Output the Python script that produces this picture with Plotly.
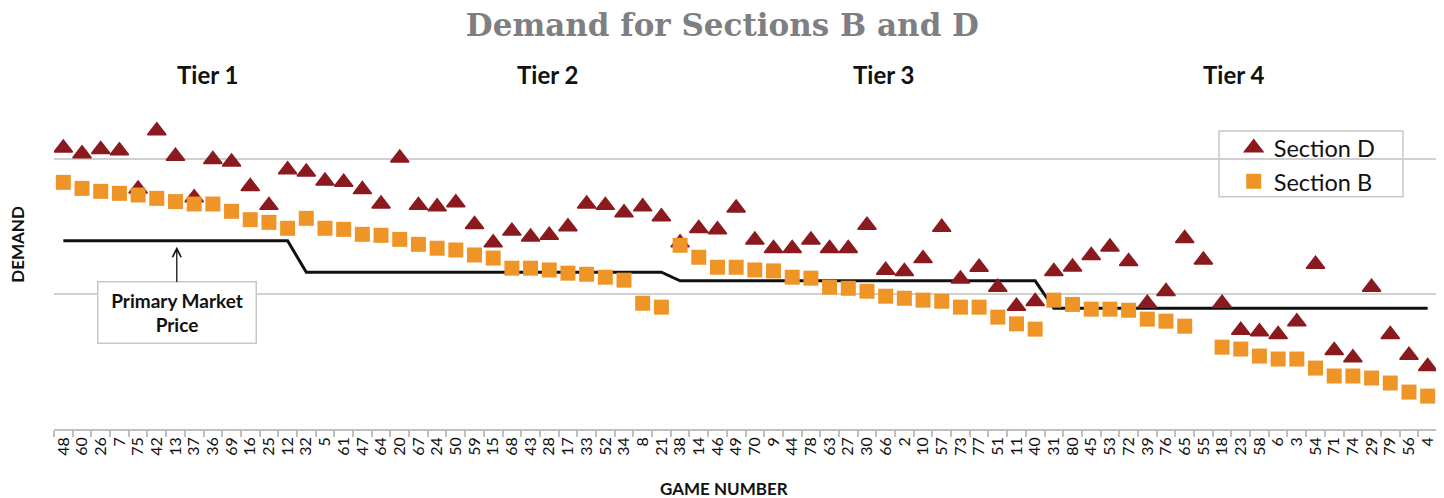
import plotly.graph_objects as go

games = ["48", "60", "26", "7", "75", "42", "13", "37", "36", "69",
         "16", "25", "12", "32", "5", "61", "47", "64", "20", "67",
         "24", "50", "59", "15", "68", "43", "28", "17", "33", "52",
         "34", "8", "21", "38", "14", "46", "49", "70", "9", "44",
         "78", "63", "27", "30", "66", "2", "10", "57", "73", "77",
         "51", "11", "40", "31", "80", "45", "53", "72", "39", "76",
         "65", "55", "18", "23", "58", "6", "3", "54", "71", "74",
         "29", "79", "56", "4"]

section_d = [208.5, 204.2, 207.4, 206.5, 178.1, 221.3, 202.4, 171.5, 200.0, 198.1,
             179.9, 165.9, 192.4, 190.7, 183.9, 183.1, 177.6, 166.9, 201.1, 165.9,
             164.8, 167.9, 151.7, 138.1, 146.8, 142.4, 143.7, 150.0, 166.9, 165.9,
             160.5, 164.8, 157.4, 138.1, 148.7, 147.8, 163.9, 140.2, 133.9, 133.9,
             140.2, 133.9, 133.9, 151.1, 117.8, 116.8, 126.4, 149.6, 111.3, 120.0,
             105.2, 91.1, 94.6, 116.8, 120.2, 128.7, 135.0, 124.2, 93.3, 102.0,
             141.3, 125.4, 93.3, 73.3, 72.1, 70.1, 79.5, 122.2, 58.3, 52.8,
             105.2, 70.1, 54.8, 46.4]

section_b = [183.0, 178.5, 176.3, 174.8, 173.6, 171.1, 168.7, 166.9, 166.9, 161.5,
             155.3, 153.3, 148.9, 156.3, 148.9, 148.1, 144.4, 143.7, 140.7, 137.0,
             134.1, 132.8, 129.1, 126.8, 119.3, 119.3, 118.0, 115.6, 114.8, 112.6,
             110.4, 93.3, 90.4, 136.3, 127.4, 120.0, 120.0, 118.0, 117.3, 112.6,
             111.9, 105.2, 104.4, 102.2, 98.5, 97.0, 95.6, 94.8, 90.4, 90.4,
             83.0, 78.0, 74.1, 95.6, 92.4, 88.9, 88.9, 88.1, 81.5, 80.0,
             76.3, None, 60.7, 59.3, 54.1, 51.9, 51.9, 45.2, 39.3, 39.3,
             37.8, 34.1, 27.4, 24.4]

# primary market price per game (one price per tier)
market_price = [139.6] * 13 + [116.3] * 20 + [109.9] * 20 + [89.5] * 21

tiers = ["Tier 1", "Tier 2", "Tier 3", "Tier 4"]
tier_label_pos = [7.7, 25.9, 43.9, 62.6]

font = "Lato, 'Open Sans', sans-serif"

fig = go.Figure()

fig.add_trace(go.Scatter(
    x=games, y=market_price, mode="lines",
    line=dict(color="#111111", width=3),
    showlegend=False, name="Primary Market Price"))

fig.add_trace(go.Scatter(
    x=games, y=section_d, mode="markers", name="Section D",
    marker=dict(symbol="triangle-up", size=16, color="#8B1A1F",
                line=dict(color="#8B1A1F", width=1.5))))

fig.add_trace(go.Scatter(
    x=games, y=section_b, mode="markers", name="Section B",
    marker=dict(symbol="square", size=15, color="#EF9528",
                line=dict(width=0))))

annotations = []
for t, p in zip(tiers, tier_label_pos):
    annotations.append(dict(x=p, y=1.053, xref="x", yref="paper", yanchor="middle",
                            text="<b>%s</b>" % t, showarrow=False,
                            font=dict(family=font, size=24, color="#111111")))

annotations.append(dict(
    x=6.07, y=135.2, xref="x", yref="y",
    text="<b>Primary Market<br>Price</b>",
    showarrow=True, arrowhead=5, arrowsize=1.3, arrowwidth=1.3, arrowcolor="#111111",
    ax=0, ay=66,
    font=dict(family=font, size=19, color="#111111"),
    bgcolor="white", bordercolor="#c8c8c8", borderwidth=1.5,
    width=155, height=58))

annotations.append(dict(x=0.4845, y=-0.176, xref="paper", yref="paper",
                        xanchor="center", yanchor="middle",
                        text="<b>GAME NUMBER</b>", showarrow=False,
                        font=dict(family=font, size=17, color="#111111")))
annotations.append(dict(x=-0.026, y=0.547, xref="paper", yref="paper",
                        xanchor="center", yanchor="middle",
                        text="<b>DEMAND</b>", showarrow=False, textangle=-90,
                        font=dict(family=font, size=17, color="#111111")))

# legend frame
shapes = [dict(type="rect", xref="paper", yref="paper",
               x0=0.8424, x1=0.9754, y0=0.689, y1=0.884,
               line=dict(color="#c8c8c8", width=1.5), fillcolor="white", layer="below")]

# the page body adds an 8px margin, so the figure is 8px smaller
fig.update_layout(
    width=1436, height=490,
    margin=dict(l=46, r=7, t=84, b=68.5),
    paper_bgcolor="white", plot_bgcolor="white",
    title=dict(text="<b>Demand for Sections B and D</b>", x=0.4975, xref="container",
               y=0.965, yref="container", yanchor="middle",
               font=dict(family="'DejaVu Serif', serif", size=31, color="#7f7f83")),
    font=dict(family=font, color="#111111"),
    legend=dict(x=0.853, y=0.899, xanchor="left", yanchor="top",
                borderwidth=0, bgcolor="rgba(0,0,0,0)",
                font=dict(family=font, size=23.5, color="#111111"),
                itemwidth=30, tracegroupgap=0),
    annotations=annotations,
    shapes=shapes,
)

fig.update_xaxes(
    type="category", range=[-0.5, 73.5], dtick=1, automargin=False,
    tickangle=-90, tickson="boundaries",
    ticks="outside", ticklen=6, tickcolor="#bfbfbf", tickwidth=1.5,
    showline=True, linecolor="#bfbfbf", linewidth=1.5,
    showgrid=False, tickfont=dict(family=font, size=16, color="#111111"),
)
fig.update_yaxes(
    range=[0, 250], tickvals=[100, 200], showticklabels=False, automargin=False,
    showgrid=True, gridcolor="#d0d0d0", gridwidth=1.5, zeroline=False,
)

fig.write_html("out.html")
